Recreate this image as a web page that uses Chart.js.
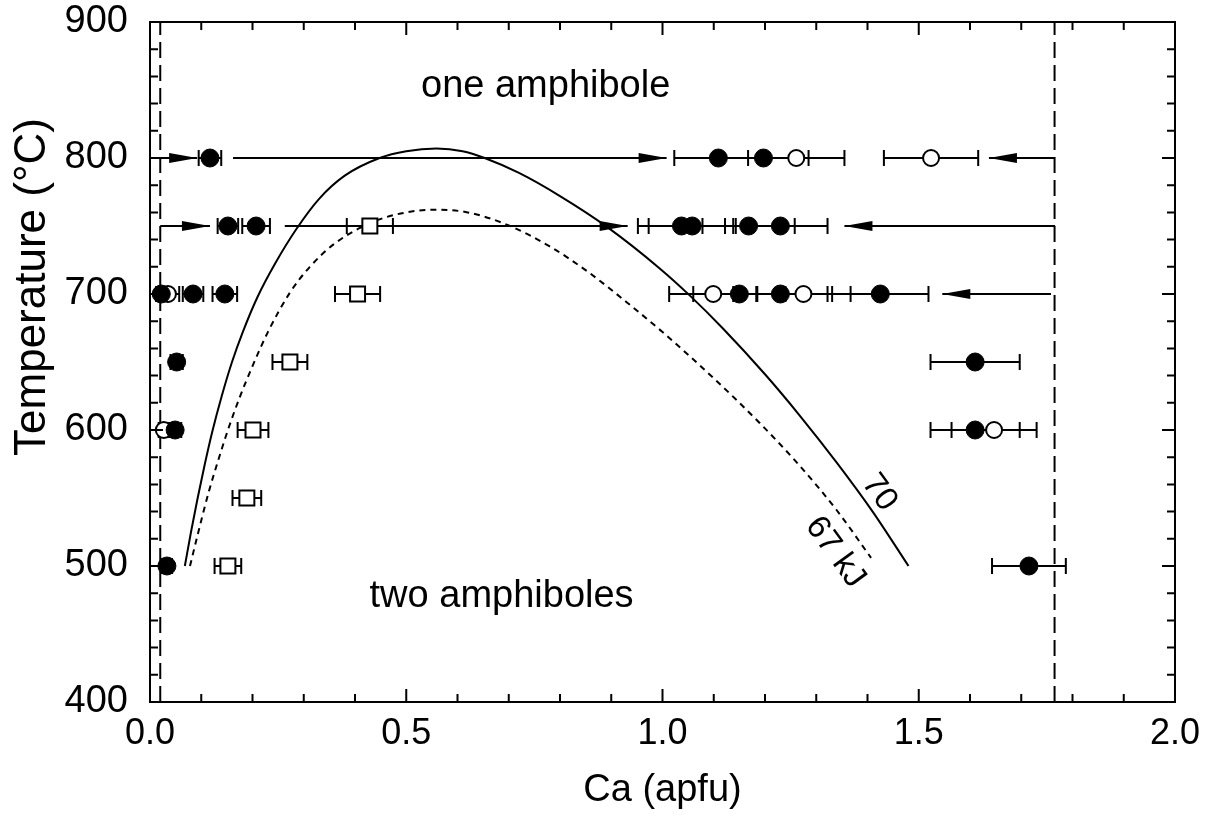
<!DOCTYPE html>
<html>
<head>
<meta charset="utf-8">
<script src="https://cdn.jsdelivr.net/npm/chart.js@4"></script>
<style>
  html, body { margin: 0; padding: 0; background: #fff; }
  #wrap { width: 1215px; height: 822px; }
</style>
</head>
<body>
<div id="wrap"><canvas id="chart" width="1215" height="822"></canvas></div>
<script>
// 目盛り
const xTickValues = [0, 0.5, 1.0, 1.5, 2.0];
const yTickValues = [400, 500, 600, 700, 800, 900];

// 黒丸 (Ca, 温度, 誤差)
const filledCa  = [0.117, 1.109, 1.197, 0.152, 0.207, 1.037, 1.058, 1.168, 1.230, 0.022, 0.084, 0.146, 1.150, 1.230, 1.425, 0.052, 1.610, 0.049, 1.610, 0.033, 1.715];
const filledT   = [800, 800, 800, 750, 750, 750, 750, 750, 750, 700, 700, 700, 700, 700, 700, 650, 650, 600, 600, 500, 500];
const filledErr = [0.022, 0.086, 0.088, 0.020, 0.027, 0.085, 0.085, 0.090, 0.092, 0.010, 0.020, 0.024, 0.090, 0.092, 0.094, 0.012, 0.087, 0.012, 0.087, 0.010, 0.072];

// 白丸
const openCa  = [1.261, 1.524, 0.035, 1.099, 1.275, 0.027, 1.647];
const openT   = [800, 800, 700, 700, 700, 600, 600];
const openErr = [0.094, 0.092, 0.022, 0.086, 0.092, 0.010, 0.083];

// 白四角
const squareCa  = [0.429, 0.405, 0.273, 0.201, 0.189, 0.152];
const squareT   = [750, 700, 650, 600, 550, 500];
const squareErr = [0.045, 0.044, 0.034, 0.030, 0.028, 0.026];

// 矢印 (始点 → 先端)
const arrowFrom = [0.020, 0.162, 1.766, 0.020, 0.263, 1.766, 1.758];
const arrowTo   = [0.092, 1.008, 1.637, 0.117, 0.932, 1.355, 1.546];
const arrowT    = [800, 800, 800, 750, 750, 750, 700];

// ソルバス曲線 70 kJ
const curve70Ca = [0.068, 0.080, 0.093, 0.107, 0.121, 0.140, 0.160, 0.181, 0.210, 0.245, 0.286, 0.330, 0.380, 0.448, 0.500, 0.559, 0.610, 0.653, 0.720, 0.800, 0.893, 0.994, 1.053, 1.117, 1.200, 1.267, 1.340, 1.410, 1.480];
const curve70T  = [500, 525, 550, 575, 598, 625, 650, 672, 698, 723, 748, 770, 787, 800, 805, 807, 805, 800, 789, 772, 749, 719, 699, 675, 641, 611, 576, 540, 500];

// ソルバス曲線 67 kJ
const curve67Ca = [0.078, 0.095, 0.115, 0.135, 0.152, 0.175, 0.200, 0.230, 0.273, 0.312, 0.360, 0.435, 0.500, 0.559, 0.620, 0.696, 0.780, 0.852, 0.930, 1.000, 1.100, 1.190, 1.267, 1.340, 1.407];
const curve67T  = [500, 526, 555, 580, 600, 624, 647, 672, 701, 720, 737, 753, 760, 762, 760, 751, 735, 717, 694, 672, 638, 605, 574, 541, 506];

// 端成分の破線
const limitCa = [0.020, 1.765];

const FONT = "'Liberation Sans', Arial, sans-serif";

function toPoints(xs, ys) {
  return xs.map((v, i) => ({ x: v, y: ys[i] }));
}

const datasets = [
  {
    label: 'filled', data: toPoints(filledCa, filledT), xErr: filledErr,
    pointStyle: 'circle', pointRadius: 9, backgroundColor: '#000', borderColor: '#000', borderWidth: 1
  },
  {
    label: 'open', data: toPoints(openCa, openT), xErr: openErr,
    pointStyle: 'circle', pointRadius: 8, backgroundColor: '#fff', borderColor: '#000', borderWidth: 2
  },
  {
    label: 'square', data: toPoints(squareCa, squareT), xErr: squareErr,
    pointStyle: 'rect', pointRadius: 10.6, backgroundColor: '#fff', borderColor: '#000', borderWidth: 2
  },
  {
    label: '70', data: toPoints(curve70Ca, curve70T), showLine: true, cubicInterpolationMode: 'monotone',
    pointRadius: 0, borderColor: '#000', borderWidth: 2
  },
  {
    label: '67', data: toPoints(curve67Ca, curve67T), showLine: true, cubicInterpolationMode: 'monotone',
    pointRadius: 0, borderColor: '#000', borderWidth: 2, borderDash: [6, 5]
  }
];

// 矢印の線
arrowFrom.forEach((v, i) => {
  datasets.push({
    label: 'arrow' + i, data: [{ x: v, y: arrowT[i] }, { x: arrowTo[i], y: arrowT[i] }],
    showLine: true, pointRadius: 0, borderColor: '#000', borderWidth: 2
  });
});

// 縦の破線
limitCa.forEach((v, i) => {
  datasets.push({
    label: 'limit' + i, data: [{ x: v, y: 400 }, { x: v, y: 900 }],
    showLine: true, pointRadius: 0, borderColor: '#000', borderWidth: 2, borderDash: [16, 7]
  });
});

// 誤差棒
const errorBars = {
  id: 'errorBars',
  beforeDatasetsDraw(chart) {
    const { ctx, scales: { x, y } } = chart;
    ctx.save();
    ctx.strokeStyle = '#000';
    ctx.lineWidth = 2;
    chart.data.datasets.forEach(ds => {
      if (!ds.xErr) return;
      ds.data.forEach((p, i) => {
        const py = y.getPixelForValue(p.y);
        const x0 = x.getPixelForValue(p.x - ds.xErr[i]);
        const x1 = x.getPixelForValue(p.x + ds.xErr[i]);
        ctx.beginPath();
        ctx.moveTo(x0, py); ctx.lineTo(x1, py);
        ctx.moveTo(x0, py - 8); ctx.lineTo(x0, py + 8);
        ctx.moveTo(x1, py - 8); ctx.lineTo(x1, py + 8);
        ctx.stroke();
      });
    });
    ctx.restore();
  }
};

// 矢印の先端、枠、目盛り、文字
const decorations = {
  id: 'decorations',
  afterDatasetsDraw(chart) {
    const { ctx, chartArea: a, scales: { x, y } } = chart;
    ctx.save();
    ctx.fillStyle = '#000';
    arrowTo.forEach((v, i) => {
      const tip = x.getPixelForValue(v);
      const dir = v > arrowFrom[i] ? 1 : -1;
      const py = y.getPixelForValue(arrowT[i]);
      ctx.beginPath();
      ctx.moveTo(tip, py);
      ctx.lineTo(tip - dir * 28, py - 5);
      ctx.lineTo(tip - dir * 28, py + 5);
      ctx.closePath();
      ctx.fill();
    });

    // 枠
    ctx.strokeStyle = '#000';
    ctx.lineWidth = 2;
    ctx.strokeRect(a.left, a.top, a.right - a.left, a.bottom - a.top);

    // 内向きの目盛り
    ctx.beginPath();
    for (let i = 0; i <= 20; i++) {
      const px = x.getPixelForValue(i / 10);
      const len = i % 5 === 0 ? 13 : 8;
      ctx.moveTo(px, a.bottom); ctx.lineTo(px, a.bottom - len);
      ctx.moveTo(px, a.top); ctx.lineTo(px, a.top + len);
    }
    for (let t = 400; t <= 900; t += 20) {
      const py = y.getPixelForValue(t);
      const len = t % 100 === 0 ? 13 : 8;
      ctx.moveTo(a.left, py); ctx.lineTo(a.left + len, py);
      ctx.moveTo(a.right, py); ctx.lineTo(a.right - len, py);
    }
    ctx.stroke();

    // 領域の文字
    ctx.font = '38px ' + FONT;
    ctx.textAlign = 'center';
    ctx.textBaseline = 'alphabetic';
    ctx.fillText('one amphibole', x.getPixelForValue(0.772), y.getPixelForValue(845));
    ctx.fillText('two amphiboles', x.getPixelForValue(0.686), y.getPixelForValue(470));

    // 曲線のラベル
    ctx.font = '33px ' + FONT;
    ctx.textBaseline = 'middle';
    const ang = 54 * Math.PI / 180;
    [['70', 1.423, 554], ['67 kJ', 1.337, 510]].forEach(([txt, cx, ct]) => {
      ctx.save();
      ctx.translate(x.getPixelForValue(cx), y.getPixelForValue(ct));
      ctx.rotate(ang);
      ctx.fillText(txt, 0, 0);
      ctx.restore();
    });

    // 縦軸タイトル
    ctx.save();
    ctx.font = '44px ' + FONT;
    ctx.translate(33, 287);
    ctx.rotate(-Math.PI / 2);
    ctx.fillText('Temperature (°C)', 0, 0);
    ctx.restore();
    ctx.restore();
  }
};

new Chart(document.getElementById('chart').getContext('2d'), {
  type: 'scatter',
  data: { datasets },
  options: {
    responsive: false,
    animation: false,
    events: [],
    layout: { autoPadding: false, padding: { left: 0, right: 40, top: 22, bottom: 0 } },
    plugins: { legend: { display: false }, tooltip: { enabled: false } },
    scales: {
      x: {
        type: 'linear', min: 0, max: 2,
        grid: { display: false, drawTicks: false },
        border: { display: false },
        afterBuildTicks: s => { s.ticks = xTickValues.map(v => ({ value: v })); },
        afterFit: s => { s.height = 120; s.paddingLeft = 0; s.paddingRight = 0; },
        ticks: { padding: 10, color: '#000', font: { family: FONT, size: 36 }, callback: v => Number(v).toFixed(1) },
        title: { display: true, text: 'Ca (apfu)', color: '#000', font: { family: FONT, size: 38 }, padding: { top: 0, bottom: 9 } }
      },
      y: {
        type: 'linear', min: 400, max: 900,
        grid: { display: false, drawTicks: false },
        border: { display: false },
        afterBuildTicks: s => { s.ticks = yTickValues.map(v => ({ value: v })); },
        afterFit: s => { s.width = 150; s.paddingTop = 0; s.paddingBottom = 0; },
        ticks: { padding: 22, color: '#000', font: { family: FONT, size: 38 } }
      }
    }
  },
  plugins: [errorBars, decorations]
});
</script>
</body>
</html>
